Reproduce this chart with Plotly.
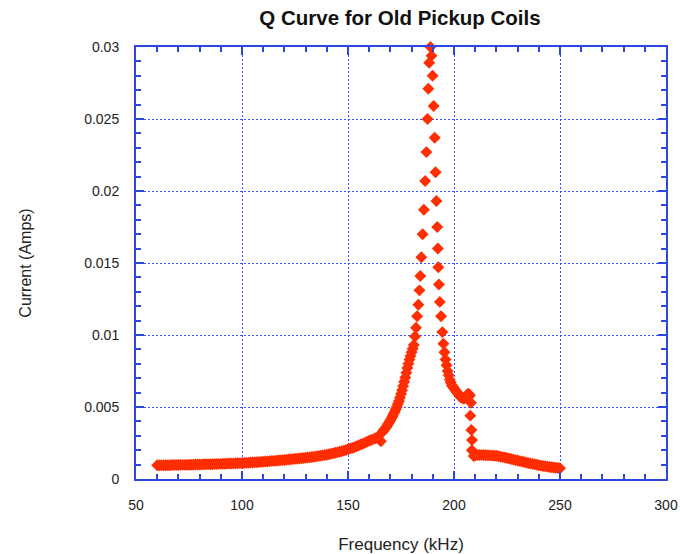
import plotly.graph_objects as go

# Rising side (sweep up to resonance), kHz
freq_up = list(range(60, 165)) + [165.5, 166, 166.5, 167, 167.5, 168, 168.5, 169, 169.5, 170,
           170.5, 171, 171.5, 172, 172.5, 173, 173.5, 174, 174.5, 175, 175.5, 176, 176.5, 177,
           177.5, 178, 178.5, 179, 179.5, 180, 180.5, 181, 181.6, 182.1, 182.6, 183.2, 183.7,
           184.1, 184.6, 185.2, 185.8, 186.4, 187.0, 187.5, 187.9, 188.3, 188.9]
amps_up = [
    # 60-80
    0.00095, 0.00095, 0.00095, 0.00096, 0.00096, 0.00096, 0.00096, 0.00097, 0.00097, 0.00097,
    0.00097, 0.00098, 0.00098, 0.00098, 0.00098, 0.00099, 0.00099, 0.00099, 0.00100, 0.00100,
    0.00101,
    # 81-100
    0.00101, 0.00102, 0.00102, 0.00102, 0.00103, 0.00103, 0.00104, 0.00104, 0.00105, 0.00105,
    0.00106, 0.00106, 0.00107, 0.00107, 0.00108, 0.00108, 0.00109, 0.00109, 0.00110, 0.00110,
    # 101-120
    0.00111, 0.00112, 0.00113, 0.00114, 0.00115, 0.00116, 0.00117, 0.00118, 0.00119, 0.00120,
    0.00121, 0.00122, 0.00124, 0.00125, 0.00126, 0.00127, 0.00129, 0.00130, 0.00131, 0.00132,
    # 121-140
    0.00134, 0.00135, 0.00137, 0.00138, 0.00140, 0.00141, 0.00143, 0.00144, 0.00146, 0.00147,
    0.00149, 0.00151, 0.00153, 0.00155, 0.00157, 0.00159, 0.00162, 0.00164, 0.00167, 0.00169,
    # 141-164
    0.00172, 0.00175, 0.00178, 0.00182, 0.00185, 0.00189, 0.00193, 0.00197, 0.00201, 0.00206,
    0.00211, 0.00216, 0.00221, 0.00227, 0.00233, 0.00239, 0.00245, 0.00252, 0.00258, 0.00265,
    0.00271, 0.00277, 0.00283, 0.00290,
    # 165.5 (low point), 166-181
    0.00262, 0.00322, 0.00331, 0.00340, 0.00350, 0.00360, 0.00371, 0.00383, 0.00395, 0.00408,
    0.00422, 0.00436, 0.00451, 0.00466, 0.00483, 0.00500, 0.00520, 0.00540, 0.00565, 0.00590,
    0.00617, 0.00645, 0.00675, 0.00705, 0.00737, 0.00770, 0.00800, 0.00830, 0.00855, 0.00880,
    0.00905, 0.00930,
    # 181.6-188.9 (sparse points up the peak)
    0.0099, 0.0105, 0.0113, 0.0121, 0.0131, 0.0141, 0.0154, 0.0170, 0.0187, 0.0207, 0.0227,
    0.0250, 0.0271, 0.0289, 0.0300]

# Falling side (past resonance), kHz
freq_down = [189.4, 189.9, 190.4, 190.9, 191.3, 191.7, 192.1, 192.4, 192.6, 192.9, 193.3,
             193.9, 194.5, 195.0, 195.5, 196.0, 196.5, 197.0, 197.5, 198.0, 198.5, 199.0,
             199.5, 200.0, 200.5, 201.0, 201.5, 202.0, 202.5, 203.0, 203.5, 204.0, 204.5,
             205.0, 205.5, 206.0, 206.5, 207.0, 207.5, 208.0, 207.7, 208.2, 208.5, 208.4,
             209.3] + list(range(210, 251))
amps_down = [0.0294, 0.0280, 0.0259, 0.0237, 0.0213, 0.0193, 0.0175, 0.0160, 0.0147, 0.0135,
             0.0123, 0.0113, 0.0102, 0.0094, 0.0088, 0.0083, 0.0079, 0.0075, 0.0072, 0.0069,
             0.0067, 0.0065, 0.0064, 0.0063, 0.0062, 0.0061, 0.0060, 0.0059, 0.0058, 0.0057,
             0.0057, 0.0056, 0.0056, 0.0056, 0.0057, 0.0058, 0.0059, 0.0059, 0.0058, 0.0053,
             0.0044, 0.0034, 0.0027, 0.0020, 0.0016,
             # 210-250
             0.00165, 0.00166, 0.00166, 0.00166, 0.00166, 0.00165, 0.00165, 0.00164, 0.00163,
             0.00162, 0.00161, 0.00158, 0.00155, 0.00152, 0.00150, 0.00146, 0.00142, 0.00139,
             0.00135, 0.00131, 0.00128, 0.00124, 0.00121, 0.00118, 0.00115, 0.00111, 0.00108,
             0.00105, 0.00102, 0.00099, 0.00096, 0.00093, 0.00090, 0.00088, 0.00086, 0.00084,
             0.00082, 0.00080, 0.00078, 0.00076, 0.00075]

x_ticks = [50, 100, 150, 200, 250, 300]
y_ticks = [0, 0.005, 0.01, 0.015, 0.02, 0.025, 0.03]
y_tick_text = ["0", "0.005", "0.01", "0.015", "0.02", "0.025", "0.03"]

RED = "#ff2d00"
BLUE = "#2f45e0"
GRID = "#3350ff"
FONT = "Liberation Sans, Arial, sans-serif"

fig = go.Figure()
fig.add_trace(go.Scatter(
    x=freq_up + freq_down, y=amps_up + amps_down, mode="markers",
    marker=dict(symbol="diamond", size=9.2, color=RED, line=dict(width=0)),
    cliponaxis=False, showlegend=False, hoverinfo="skip"))

axis_common = dict(
    showline=True, linecolor=BLUE, linewidth=2, mirror="ticks",
    ticks="inside", ticklen=8, tickwidth=1.5, tickcolor=BLUE,
    showgrid=True, gridcolor=GRID, griddash="2px,2px", gridwidth=1,
    zeroline=False, automargin=False,
    tickfont=dict(family=FONT, size=14, color="#222222"),
)

fig.update_layout(
    width=680, height=554,
    margin=dict(l=136, r=14, t=47, b=75),
    paper_bgcolor="white", plot_bgcolor="white",
    title=dict(text="<b>Q Curve for Old Pickup Coils</b>", x=400 / 680, xanchor="center",
               y=1 - 18 / 554, yanchor="middle",
               font=dict(family=FONT, size=20.5, color="#111111")),
    xaxis=dict(range=[50, 300], tickvals=x_ticks,
               minor=dict(dtick=10, ticks="inside", ticklen=5, tickcolor=BLUE, showgrid=False),
               ticklabelstandoff=12,
               title=dict(text="Frequency (kHz)", standoff=26,
                          font=dict(family=FONT, size=17, color="#222222")),
               **axis_common),
    yaxis=dict(range=[0, 0.03], tickvals=y_ticks, ticktext=y_tick_text,
               minor=dict(dtick=0.001, ticks="inside", ticklen=5, tickcolor=BLUE, showgrid=False),
               ticklabelstandoff=12,
               title=dict(text="Current (Amps)", standoff=49,
                          font=dict(family=FONT, size=16, color="#222222")),
               **axis_common),
)

fig.write_html("out.html", config={"displayModeBar": False},
               post_script="document.body.style.margin='0';")
